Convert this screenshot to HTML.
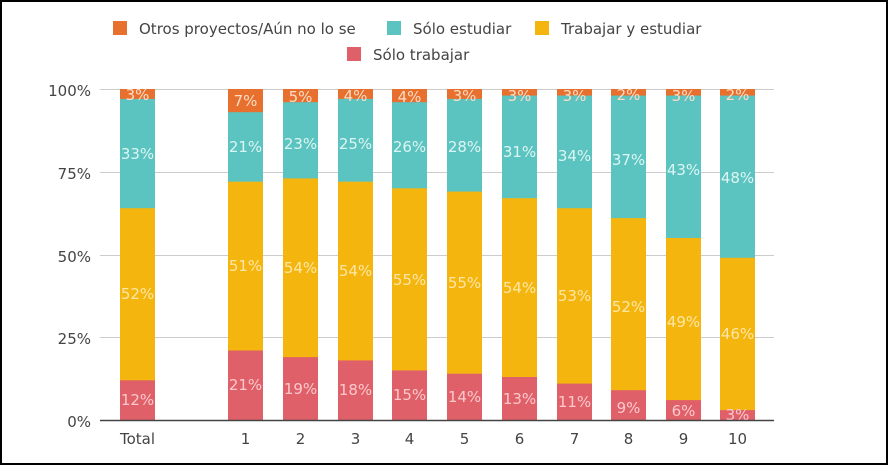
<!DOCTYPE html>
<html><head><meta charset="utf-8"><style>
body{margin:0;background:#fff}
svg{display:block}
text{font-family:"DejaVu Sans","Liberation Sans",sans-serif}
.lr{fill:#fbc9cc}.ly{fill:#fde7a6}.lt{fill:#ddf5f3}.lo{fill:#fddcc4}
.v{font-size:15px;text-anchor:middle}
</style></head><body>
<svg width="890" height="466" viewBox="0 0 890 466" xmlns="http://www.w3.org/2000/svg">
<rect x="1" y="1" width="886" height="463" fill="#fff" stroke="#000" stroke-width="2"/>
<!-- legend -->
<g font-size="15" fill="#444">
<rect x="113" y="21" width="14" height="14" fill="#e8702f"/><text x="139" y="34">Otros proyectos/Aún no lo se</text>
<rect x="387" y="21" width="14" height="14" fill="#5bc4c0"/><text x="413" y="34">Sólo estudiar</text>
<rect x="535" y="21" width="14" height="14" fill="#f5b50f"/><text x="561" y="34">Trabajar y estudiar</text>
<rect x="347" y="47" width="14" height="14" fill="#e0606a"/><text x="373" y="60">Sólo trabajar</text>
</g>
<!-- grid -->
<g stroke="#ccc" stroke-width="1">
<line x1="100" x2="774" y1="89.5" y2="89.5"/><line x1="100" x2="774" y1="172.5" y2="172.5"/>
<line x1="100" x2="774" y1="255.5" y2="255.5"/><line x1="100" x2="774" y1="337.5" y2="337.5"/>
</g>
<g font-size="15" fill="#444" text-anchor="end">
<text x="91" y="96">100%</text><text x="91" y="179">75%</text><text x="91" y="262">50%</text><text x="91" y="344">25%</text><text x="91" y="427">0%</text>
</g>
<g id="bars">
<!-- x, c1,c2,c3 -->
</g>
<g>
<!-- Total -->
<rect x="120" y="89" width="35" height="331" fill="#e8702f"/><rect x="120" y="98.9" width="35" height="321.1" fill="#5bc4c0"/><rect x="120" y="208.2" width="35" height="211.8" fill="#f5b50f"/><rect x="120" y="380.3" width="35" height="39.7" fill="#e0606a"/>
<!-- 1 -->
<rect x="228" y="89" width="35" height="331" fill="#e8702f"/><rect x="228" y="112.2" width="35" height="307.8" fill="#5bc4c0"/><rect x="228" y="181.7" width="35" height="238.3" fill="#f5b50f"/><rect x="228" y="350.5" width="35" height="69.5" fill="#e0606a"/>
<!-- 2 -->
<rect x="283" y="89" width="35" height="331" fill="#e8702f"/><rect x="283" y="102.2" width="35" height="317.8" fill="#5bc4c0"/><rect x="283" y="178.4" width="35" height="241.6" fill="#f5b50f"/><rect x="283" y="357.1" width="35" height="62.9" fill="#e0606a"/>
<!-- 3 -->
<rect x="338" y="89" width="35" height="331" fill="#e8702f"/><rect x="338" y="98.9" width="35" height="321.1" fill="#5bc4c0"/><rect x="338" y="181.7" width="35" height="238.3" fill="#f5b50f"/><rect x="338" y="360.4" width="35" height="59.6" fill="#e0606a"/>
<!-- 4 -->
<rect x="392" y="89" width="35" height="331" fill="#e8702f"/><rect x="392" y="102.2" width="35" height="317.8" fill="#5bc4c0"/><rect x="392" y="188.3" width="35" height="231.7" fill="#f5b50f"/><rect x="392" y="370.4" width="35" height="49.6" fill="#e0606a"/>
<!-- 5 -->
<rect x="447" y="89" width="35" height="331" fill="#e8702f"/><rect x="447" y="98.9" width="35" height="321.1" fill="#5bc4c0"/><rect x="447" y="191.6" width="35" height="228.4" fill="#f5b50f"/><rect x="447" y="373.7" width="35" height="46.3" fill="#e0606a"/>
<!-- 6 -->
<rect x="502" y="89" width="35" height="331" fill="#e8702f"/><rect x="502" y="95.6" width="35" height="324.4" fill="#5bc4c0"/><rect x="502" y="198.2" width="35" height="221.8" fill="#f5b50f"/><rect x="502" y="377" width="35" height="43" fill="#e0606a"/>
<!-- 7 -->
<rect x="557" y="89" width="35" height="331" fill="#e8702f"/><rect x="557" y="95.6" width="35" height="324.4" fill="#5bc4c0"/><rect x="557" y="208.2" width="35" height="211.8" fill="#f5b50f"/><rect x="557" y="383.6" width="35" height="36.4" fill="#e0606a"/>
<!-- 8 -->
<rect x="611" y="89" width="35" height="331" fill="#e8702f"/><rect x="611" y="95.6" width="35" height="324.4" fill="#5bc4c0"/><rect x="611" y="218.1" width="35" height="201.9" fill="#f5b50f"/><rect x="611" y="390.2" width="35" height="29.8" fill="#e0606a"/>
<!-- 9 -->
<rect x="666" y="89" width="35" height="331" fill="#e8702f"/><rect x="666" y="95.6" width="35" height="324.4" fill="#5bc4c0"/><rect x="666" y="238" width="35" height="182" fill="#f5b50f"/><rect x="666" y="400.1" width="35" height="19.9" fill="#e0606a"/>
<!-- 10 -->
<rect x="720" y="89" width="35" height="331" fill="#e8702f"/><rect x="720" y="95.6" width="35" height="324.4" fill="#5bc4c0"/><rect x="720" y="257.8" width="35" height="162.2" fill="#f5b50f"/><rect x="720" y="410.1" width="35" height="9.9" fill="#e0606a"/>
</g>
<g class="v">
<text class="v lr" x="137.5" y="405">12%</text><text class="v ly" x="137.5" y="299">52%</text><text class="v lt" x="137.5" y="159">33%</text><text class="v lo" x="137.5" y="100">3%</text>
<text class="v lr" x="245.5" y="390">21%</text><text class="v ly" x="245.5" y="271">51%</text><text class="v lt" x="245.5" y="152">21%</text><text class="v lo" x="245.5" y="106">7%</text>
<text class="v lr" x="300.5" y="394">19%</text><text class="v ly" x="300.5" y="273">54%</text><text class="v lt" x="300.5" y="149">23%</text><text class="v lo" x="300.5" y="102">5%</text>
<text class="v lr" x="355.5" y="395">18%</text><text class="v ly" x="355.5" y="276">54%</text><text class="v lt" x="355.5" y="149">25%</text><text class="v lo" x="355.5" y="101">4%</text>
<text class="v lr" x="409.5" y="400">15%</text><text class="v ly" x="409.5" y="285">55%</text><text class="v lt" x="409.5" y="152">26%</text><text class="v lo" x="409.5" y="102">4%</text>
<text class="v lr" x="464.5" y="402">14%</text><text class="v ly" x="464.5" y="288">55%</text><text class="v lt" x="464.5" y="152">28%</text><text class="v lo" x="464.5" y="101">3%</text>
<text class="v lr" x="519.5" y="404">13%</text><text class="v ly" x="519.5" y="293">54%</text><text class="v lt" x="519.5" y="157">31%</text><text class="v lo" x="519.5" y="101">3%</text>
<text class="v lr" x="574.5" y="407">11%</text><text class="v ly" x="574.5" y="301">53%</text><text class="v lt" x="574.5" y="161">34%</text><text class="v lo" x="574.5" y="101">3%</text>
<text class="v lr" x="628.5" y="413">9%</text><text class="v ly" x="628.5" y="312">52%</text><text class="v lt" x="628.5" y="165">37%</text><text class="v lo" x="628.5" y="100">2%</text>
<text class="v lr" x="683.5" y="416">6%</text><text class="v ly" x="683.5" y="327">49%</text><text class="v lt" x="683.5" y="175">43%</text><text class="v lo" x="683.5" y="101">3%</text>
<text class="v lr" x="737.5" y="420">3%</text><text class="v ly" x="737.5" y="339">46%</text><text class="v lt" x="737.5" y="183">48%</text><text class="v lo" x="737.5" y="100">2%</text>
</g>
<line x1="100" x2="774" y1="420.5" y2="420.5" stroke="#444" stroke-width="1.5"/>
<g font-size="15" fill="#444" text-anchor="middle">
<text x="137.5" y="444">Total</text><text x="245.5" y="444">1</text><text x="300.5" y="444">2</text><text x="355.5" y="444">3</text><text x="409.5" y="444">4</text><text x="464.5" y="444">5</text><text x="519.5" y="444">6</text><text x="574.5" y="444">7</text><text x="628.5" y="444">8</text><text x="683.5" y="444">9</text><text x="737.5" y="444">10</text>
</g>
</svg>
</body></html>
